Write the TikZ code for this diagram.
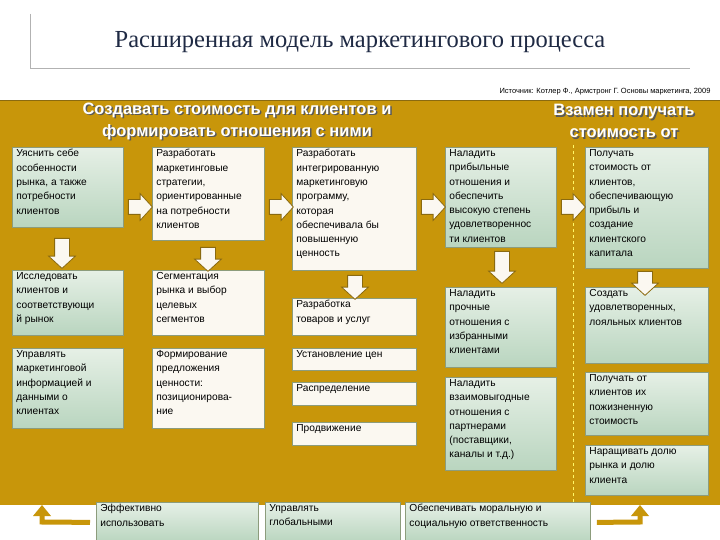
\documentclass[tikz,border=0pt]{standalone}
\usepackage{fontspec}
\setmainfont{Liberation Serif}
\newfontfamily\ls{Liberation Sans}
\usetikzlibrary{shapes.arrows}
\definecolor{gold}{HTML}{C8960A}
\definecolor{golddk}{HTML}{8A6A10}
\definecolor{gtop}{HTML}{E6F0E6}
\definecolor{gbot}{HTML}{B9D5BF}
\definecolor{cream}{HTML}{FBF8F1}
\definecolor{bord}{HTML}{8C9C7C}
\definecolor{ttl}{HTML}{1F2A44}
\tikzset{
 gbox/.style={draw=bord, top color=gtop, bottom color=gbot, line width=0.8pt},
 cbox/.style={draw=bord, fill=cream, line width=0.8pt},
 barrow/.style={single arrow, draw=golddk, fill=cream, line width=0.8pt, inner sep=7pt, single arrow head extend=6pt, single arrow tip angle=95},
 hdr/.style={text=white, font=\ls\bfseries\fontsize{16.5}{22}\selectfont, align=center},
 hdrs/.style={text=gray!70!black, font=\ls\bfseries\fontsize{16.5}{22}\selectfont, align=center},
 lgold/.style={draw=gold, line width=5pt},
}
\newcommand\bx[7]{\node[#1, anchor=north west, inner xsep=4pt, inner ysep=2pt] (#2) at (#3,-#4)
 {\parbox[t][\dimexpr #6pt-4pt\relax][t]{\dimexpr #5pt-8pt\relax}{\ls\fontsize{10.2}{14.3}\selectfont\raggedright #7}};}
\begin{document}
\begin{tikzpicture}[x=1pt,y=1pt]
\useasboundingbox (0,0) rectangle (720,-540);
\fill[white] (0,0) rectangle (720,-540);
% frame lines
\draw[gray!60, line width=0.8pt] (30,-14) -- (30,-68) -- (690,-68);
\node[text=ttl, font=\fontsize{24.5}{28}\selectfont] (title) at (360,-42) {Расширенная модель маркетингового процесса};
\node[anchor=east, font=\ls\fontsize{7.5}{8}\selectfont] (src) at (714,-92) {Источник: Котлер Ф., Армстронг Г. Основы маркетинга, 2009};
% panel
\fill[gold] (0,-100) rectangle (720,-505);
\draw[golddk, line width=0.6pt] (0,-100) -- (720,-100);
\draw[yellow!60, dashed, line width=0.7pt] (573,-145) -- (573,-505);
% headers
\node[hdrs] (h1s) at (238.5,-122.5) {Создавать стоимость для клиентов и\\формировать отношения с ними};
\node[hdr] (h1) at (237,-121) {Создавать стоимость для клиентов и\\формировать отношения с ними};
\node[hdrs] (h2s) at (625.5,-122.5) {Взамен получать\\стоимость от};
\node[hdr] (h2) at (624,-121) {Взамен получать\\стоимость от};
% column 1
\bx{gbox}{a1}{12}{147}{111}{80}{Уяснить себе\\особенности\\рынка, а также\\потребности\\клиентов}
\bx{gbox}{a2}{12}{270}{111}{65}{Исследовать\\клиентов и\\соответствующи\\й рынок}
\bx{gbox}{a3}{12}{348}{111}{80}{Управлять\\маркетинговой\\информацией и\\данными о\\клиентах}
% column 2
\bx{cbox}{b1}{152}{147}{112}{93}{Разработать\\маркетинговые\\стратегии,\\ориентированные\\на потребности\\клиентов}
\bx{cbox}{b2}{152}{270}{112}{65}{Сегментация\\рынка и выбор\\целевых\\сегментов}
\bx{cbox}{b3}{152}{348}{112}{80}{Формирование\\предложения\\ценности:\\позициониро\-ва-\\ние}
% column 3
\bx{cbox}{c1}{292}{147}{124}{123}{Разработать\\интегрированную\\маркетинговую\\программу,\\которая\\обеспечивала бы\\повышенную\\ценность}
\bx{cbox}{c2}{292}{298}{124}{37}{Разработка\\товаров и услуг}
\bx{cbox}{c3}{292}{348}{124}{22}{Установление цен}
\bx{cbox}{c4}{292}{382}{124}{23}{Распределение}
\bx{cbox}{c5}{292}{422}{124}{23}{Продвижение}
% column 4
\bx{gbox}{d1}{445}{147}{111}{100}{Наладить\\прибыльные\\отношения и\\обеспечить\\высокую степень\\удовлетвореннос\\ти клиентов}
\bx{gbox}{d2}{445}{287}{111}{80}{Наладить\\прочные\\отношения с\\избранными\\клиентами}
\bx{gbox}{d3}{445}{377}{111}{93}{Наладить\\взаимовыгодные\\отношения с\\партнерами\\(поставщики,\\каналы и т.д.)}
% column 5
\bx{gbox}{e1}{585}{147}{123}{121}{Получать\\стоимость от\\клиентов,\\обеспечивающую\\прибыль и\\создание\\клиентского\\капитала}
\bx{gbox}{e2}{585}{287}{123}{76}{Создать\\удовлетворенных,\\лояльных клиентов}
\bx{gbox}{e3}{585}{372}{123}{63}{Получать от\\клиентов их\\пожизненную\\стоимость}
\bx{gbox}{e4}{585}{445}{123}{50}{Наращивать долю\\рынка и долю\\клиента}
% bottom
\bx{gbox}{f1}{96}{502}{162}{40}{Эффективно\\использовать}
\bx{gbox}{f2}{265}{502}{135}{40}{Управлять\\глобальными}
\bx{gbox}{f3}{405}{502}{185}{40}{Обеспечивать моральную и\\социальную ответственность}
% right arrows
\node[barrow, minimum height=24pt] (r1) at (137,-207) {};
\node[barrow, minimum height=24pt] (r2) at (278,-207) {};
\node[barrow, minimum height=24pt] (r3) at (430,-207) {};
\node[barrow, minimum height=24pt] (r4) at (570,-207) {};
% down arrows
\node[barrow, shape border rotate=270, minimum height=30pt] (d1a) at (62,-250) {};
\node[barrow, shape border rotate=270, minimum height=24pt] (d2a) at (208,-256) {};
\node[barrow, shape border rotate=270, minimum height=24pt] (d3a) at (355,-284) {};
\node[barrow, shape border rotate=270, minimum height=32pt] (d4a) at (502,-264) {};
\node[barrow, shape border rotate=270, minimum height=24pt] (d5a) at (645,-280) {};
% L arrows
\coordinate (la) at (42,-505);
\coordinate (ra) at (640,-505);
\draw[lgold] (f1.west) ++(-6,0) -- (42,-522) -- ([yshift=-10]la);
\fill[gold] (la) -- ++(-9,-11) -- ++(18,0) -- cycle;
\draw[lgold] (f3.east) ++(6,0) -- (640,-522) -- ([yshift=-10]ra);
\fill[gold] (ra) -- ++(-9,-11) -- ++(18,0) -- cycle;
\end{tikzpicture}
\end{document}
